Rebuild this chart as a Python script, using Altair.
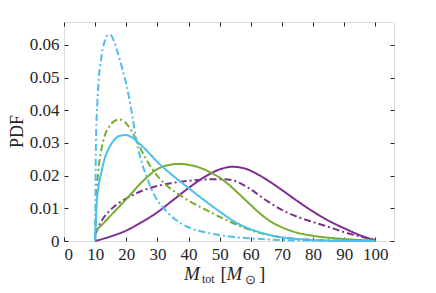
import altair as alt
import pandas as pd

# ---- data ----
cyan_dd_x = [10, 10.3, 10.7, 11.2, 11.8, 12.5, 13.3, 14.2, 15, 16, 17.3, 18.5, 20, 22, 23.2, 25, 26.6, 28.5, 30.8, 33, 36, 40, 46.7, 53, 60, 70, 80, 90, 100]
cyan_dd_y = [0, 0.032, 0.042, 0.050, 0.055, 0.059, 0.0618, 0.0630, 0.0630, 0.0612, 0.0575, 0.0535, 0.0480, 0.0380, 0.0310, 0.0240, 0.0195, 0.0150, 0.0114, 0.0090, 0.0064, 0.0042, 0.0024, 0.0014, 0.0008, 0.0003, 0.0001, 0.00003, 0]

cyan_s_x = [10, 10.4, 11, 12, 13, 14.5, 16, 18, 20, 22, 24, 26, 28, 30, 35, 40, 45, 50, 55, 60, 65, 70, 75, 80, 90, 100]
cyan_s_y = [0, 0.010, 0.016, 0.021, 0.025, 0.0285, 0.0308, 0.0322, 0.0324, 0.0316, 0.0300, 0.0282, 0.0262, 0.0242, 0.0200, 0.0162, 0.0125, 0.0090, 0.0058, 0.0036, 0.0021, 0.0011, 0.0006, 0.0003, 0.00005, 0]

green_dd_x = [10, 10.4, 11, 12, 13, 14.5, 16, 17.8, 19.5, 21.5, 23.3, 25, 26.6, 28.5, 30.8, 33, 36, 40, 45, 50, 55, 60, 65, 70, 80, 90, 100]
green_dd_y = [0, 0.013, 0.021, 0.028, 0.032, 0.0350, 0.0366, 0.0372, 0.0364, 0.0340, 0.0308, 0.0275, 0.0247, 0.0218, 0.0190, 0.0170, 0.0148, 0.0124, 0.0098, 0.0074, 0.0052, 0.0033, 0.0020, 0.0011, 0.0004, 0.0001, 0]

green_s_x = [10, 12, 15, 20, 25, 30, 34, 37, 40, 44, 47, 50, 53, 56, 60, 63, 66, 70, 75, 80, 85, 90, 95, 100]
green_s_y = [0.003, 0.0048, 0.0078, 0.0128, 0.0180, 0.0220, 0.0233, 0.0236, 0.0233, 0.0223, 0.0210, 0.0194, 0.0172, 0.0146, 0.0110, 0.0084, 0.0062, 0.0042, 0.0025, 0.0016, 0.0010, 0.0006, 0.0003, 0.0001]

purple_s_x = [10, 15, 20, 25, 30, 35, 40, 45, 50, 54, 58, 62, 66, 70, 75, 80, 85, 90, 95, 100]
purple_s_y = [0, 0.0014, 0.0032, 0.0058, 0.0088, 0.0125, 0.0162, 0.0195, 0.0219, 0.0227, 0.0222, 0.0205, 0.0182, 0.0156, 0.0122, 0.0090, 0.0062, 0.0039, 0.0018, 0.0002]

purple_dd_x = [10, 11.5, 13, 14.7, 17, 20, 23, 25.4, 28, 30.7, 35, 40, 45, 50, 54, 57, 60, 65, 70, 75, 80, 85, 90, 95, 100]
purple_dd_y = [0.002, 0.0052, 0.0075, 0.0093, 0.0112, 0.0130, 0.0145, 0.0155, 0.0163, 0.0170, 0.0178, 0.0184, 0.0188, 0.0189, 0.0186, 0.0175, 0.0158, 0.0124, 0.0095, 0.0074, 0.0058, 0.0043, 0.0027, 0.0014, 0.0003]

x_ticks = [0, 10, 20, 30, 40, 50, 60, 70, 80, 90, 100]
y_ticks = [0, 0.01, 0.02, 0.03, 0.04, 0.05, 0.06]

groups = ["cyan", "green", "purple"]
group_colors = ["#4DBEEE", "#77AC30", "#7E2F8E"]

series = [
    ("purple", "solid", purple_s_x, purple_s_y),
    ("purple", "dashdot", purple_dd_x, purple_dd_y),
    ("green", "solid", green_s_x, green_s_y),
    ("green", "dashdot", green_dd_x, green_dd_y),
    ("cyan", "solid", cyan_s_x, cyan_s_y),
    ("cyan", "dashdot", cyan_dd_x, cyan_dd_y),
]
rows = []
for g, st, xs, ys in series:
    for a, b in zip(xs, ys):
        rows.append({"grp": g, "style": st, "key": g + "_" + st, "x": a, "y": b})
df = pd.DataFrame(rows)

FONT = "Liberation Serif"
AX = "#262626"

xscale = alt.Scale(domain=[0, 106], nice=False, zero=False)
yscale = alt.Scale(domain=[0, 0.067], nice=False)

def axis(orient, labels, values, fmt=None):
    kw = dict(orient=orient, values=values, domain=False, grid=False, ticks=True,
              tickSize=4, tickColor=AX, tickWidth=1, offset=-4, title=None,
              labels=labels, labelFont=FONT, labelFontSize=17, labelColor=AX,
              labelPadding=5)
    if fmt:
        kw["format"] = fmt
    return alt.Axis(**kw)

lines = alt.Chart(df).mark_line(strokeWidth=2, interpolate="monotone").encode(
    x=alt.X("x:Q", scale=xscale, axis=axis("bottom", True, x_ticks)),
    y=alt.Y("y:Q", scale=yscale, axis=axis("left", True, y_ticks, ".2~f")),
    color=alt.Color("grp:N", scale=alt.Scale(domain=groups, range=group_colors), legend=None),
    strokeDash=alt.StrokeDash("style:N", scale=alt.Scale(domain=["solid", "dashdot"], range=[[1, 0], [7, 3, 2, 3]]), legend=None),
    detail="key:N",
)

mirror = alt.Chart(df).mark_line(opacity=0).encode(
    x=alt.X("x:Q", scale=xscale, axis=axis("top", False, x_ticks)),
    y=alt.Y("y:Q", scale=yscale, axis=axis("right", False, y_ticks)),
    detail="key:N",
)

lab = pd.DataFrame({"t": ["PDF"]})
ytitle = alt.Chart(lab).mark_text(angle=270, font=FONT, fontSize=18, color=AX,
                                  align="center", baseline="middle").encode(
    x=alt.value(-46), y=alt.value(109.5), text=alt.value("PDF"))

def piece(txt, x, y, size, italic=False):
    return alt.Chart(lab).mark_text(font=FONT, fontSize=size, color=AX, align="left",
                                    baseline="alphabetic",
                                    fontStyle="italic" if italic else "normal").encode(
        x=alt.value(x), y=alt.value(y), text=alt.value(txt))

xtitle = [
    piece("M", 120, 258, 19, True),
    piece("tot", 138, 261, 12),
    piece("[", 156.5, 258, 19),
    piece("M", 162.5, 258, 19, True),
    piece("\u2299", 180.5, 262, 13),
    piece("]", 195, 258, 19),
]

chart = alt.layer(lines, mirror, ytitle, *xtitle).resolve_axis(
    x="independent", y="independent"
).properties(
    width=330, height=219,
    autosize=alt.AutoSizeParams(type="none"),
    padding={"left": 56, "top": 14, "right": 34, "bottom": 50},
).configure_view(stroke=AX, strokeWidth=1).configure(background="white")

chart.save("out.html", embed_options={"renderer": "svg", "actions": False})
